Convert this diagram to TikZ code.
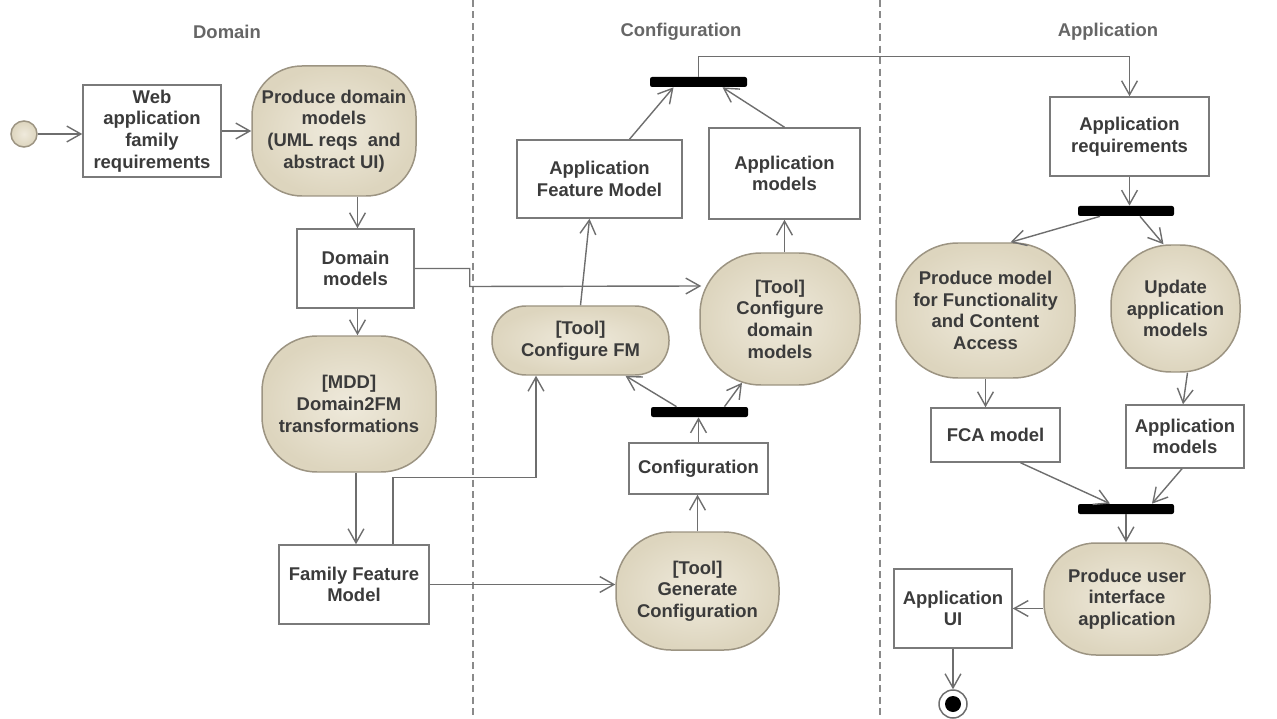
\documentclass[tikz,border=0pt]{standalone}
\usepackage{fontspec}
\setmainfont{Liberation Sans}
\usetikzlibrary{arrows.meta,calc}
\definecolor{actin}{HTML}{EFEADC}
\definecolor{actout}{HTML}{DDD5BE}
\definecolor{actline}{HTML}{9C9482}
\definecolor{ink}{HTML}{3B3B3B}
\definecolor{wire}{HTML}{6E6E6E}
\definecolor{boxline}{HTML}{7A7A7A}
\definecolor{lanegray}{HTML}{8A8A8A}
\definecolor{headgray}{HTML}{666666}

\tikzset{
  px/.style 2 args={minimum width=#1*0.02cm, minimum height=#2*0.02cm},
  lbl/.style={font=\fontsize{10.5}{12.3}\selectfont\bfseries, text=ink, align=center, inner sep=0pt},
  objbox/.style={lbl, draw=boxline, fill=white, line width=0.85pt},
  action/.style={lbl, draw=actline, inner color=actin, outer color=actout, line width=0.85pt, rounded corners=#1},
  forkbar/.style={fill=black, draw=none, inner sep=0pt, rounded corners=1.2pt},
  conn/.style={draw=wire, line width=0.8pt, -{Straight Barb[length=8pt,width=9pt]}},
  lane/.style={draw=lanegray, line width=1.1pt, dash pattern=on 4pt off 2.5pt},
  header/.style={font=\fontsize{10.5}{12}\selectfont\bfseries, text=headgray}
}

\begin{document}
\begin{tikzpicture}[x=0.02cm, y=-0.02cm]
\useasboundingbox (0,0) rectangle (1277,719);

% swimlane separators
\draw[lane] (473,0) -- (473,719);
\draw[lane] (880,0) -- (880,719);

% lane headers
\node[header] (hdom) at (227,32) {Domain};
\node[header] (hconf) at (681,32) {Configuration};
\node[header] (happ) at (1108,32) {Application};

% Domain lane
\node[circle, draw=actline, inner color=actin, outer color=actout, line width=0.85pt, minimum size=26*0.02cm, inner sep=0pt] (start) at (24,134) {};
\node[objbox, px={138}{92}] (web) at (152,131) {Web\\application\\family\\requirements};
\node[action=1.0cm, px={164}{130}] (pdm) at (334,131) {Produce domain\\models\\(UML reqs~ and\\abstract UI)};
\node[objbox, px={117}{79}] (dm) at (355.5,268.5) {Domain\\models};
\node[action=1.1cm, px={174}{136}] (mdd) at (349,404) {[MDD]\\Domain2FM\\transformations};
\node[objbox, px={150}{79}] (ffm) at (354,584.5) {Family Feature\\Model};

% Configuration lane
\node[objbox, px={165}{78}] (afm) at (599.5,179) {Application\\Feature Model};
\node[objbox, px={151}{91}] (am1) at (784.5,173.5) {Application\\models};
\node[forkbar, px={97}{10}] (bar1) at (698.5,82) {};
\node[action=0.68cm, px={177}{69}] (cfm) at (580.5,340.5) {[Tool]\\Configure FM};
\node[action=1.22cm, px={160}{132}] (cdm) at (780,319) {[Tool]\\Configure\\domain\\models};
\node[forkbar, px={97}{10}] (bar2) at (699.5,412) {};
\node[objbox, px={139}{51}] (conf) at (698.5,468.5) {Configuration};
\node[action=1.1cm, px={163}{118}] (gc) at (697.5,591) {[Tool]\\Generate\\Configuration};

% Application lane
\node[objbox, px={159}{79}] (areq) at (1129.5,136.5) {Application\\requirements};
\node[forkbar, px={96}{10}] (bar3) at (1126,211) {};
\node[action=1.24cm, px={179}{135}] (pfca) at (985.5,310.5) {Produce model\\for Functionality\\and Content\\Access};
\node[action=1.2cm, px={129}{127}] (upd) at (1175.5,308.5) {Update\\application\\models};
\node[objbox, px={129}{54}] (fcam) at (995.5,435) {FCA model};
\node[objbox, px={118}{63}] (am2) at (1185,436.5) {Application\\models};
\node[forkbar, px={96}{10}] (bar4) at (1126,509) {};
\node[action=1.04cm, px={166}{112}] (pui) at (1127,599) {Produce user\\interface\\application};
\node[objbox, px={118}{79}] (aui) at (953,608.5) {Application\\UI};
\node[circle, draw=wire, fill=white, line width=0.85pt, minimum size=28*0.02cm, inner sep=0pt] (final) at (953,704) {};
\node[circle, fill=black, minimum size=16*0.02cm, inner sep=0pt] (finaldot) at (final) {};

% Domain flows
\draw[conn] (start) -- (web.west |- start);
\draw[conn] (web.east) -- (pdm.west |- web.east);
\draw[conn] ($(dm.north |- pdm.south)+(2,0)$) -- ($(dm.north)+(2,0)$);
\draw[conn] ($(dm.south)+(2,0)$) -- ($(dm.south |- mdd.north)+(2,0)$);
\draw[conn] ($(ffm.north |- mdd.south)+(2,0)$) -- ($(ffm.north)+(2,0)$);
\draw[conn] (dm.east) -| ($(dm.east)+(55,18)$) -- ($(cdm.west)+(2,-33)$);
\draw[conn] ($(ffm.north)+(39,0)$) |- ($(cfm.south)+(-44.5,102)$) -- ($(cfm.south)+(-44.5,0)$);
\draw[conn] (ffm.east) -- (gc.west |- ffm.east);

% Configuration flows
\draw[conn] (gc.north) -- (conf.south -| gc.north);
\draw[conn] (conf.north) -- (bar2.south -| conf.north);
\draw[conn] ($(bar2.north)+(-23,0)$) -- ($(cfm.south)+(45,0)$);
\draw[conn] ($(bar2.north)+(25,0)$) -- ($(cdm.south)+(-38,-3)$);
\draw[conn] (cfm.north) -- ($(afm.south)+(-10,0)$);
\draw[conn] (am1.south |- cdm.north) -- (am1.south);
\draw[conn] ($(afm.north)+(30,0)$) -- ($(bar1.south)+(-25,0)$);
\draw[conn] (am1.north) -- ($(bar1.south)+(24,0)$);
\draw[conn] (bar1.north) -- ++(0,-20) -| (areq.north);

% Application flows
\draw[conn] (areq.south) -- (bar3.north -| areq.south);
\draw[conn] ($(bar3.south)+(-26,0)$) -- ($(pfca.north)+(25,0)$);
\draw[conn] ($(bar3.south)+(14,0)$) -- ($(upd.north)+(-12,0)$);
\draw[conn] (pfca.south) -- (fcam.north -| pfca.south);
\draw[conn] ($(upd.south)+(12,0)$) -- ($(am2.north)+(-2,0)$);
\draw[conn] ($(fcam.south)+(25,0)$) -- ($(bar4.north)+(-16,0)$);
\draw[conn] ($(am2.south)+(-3,0)$) -- ($(bar4.north)+(26,0)$);
\draw[conn] (bar4.south) -- (pui.north -| bar4.south);
\draw[conn] (aui.east -| pui.west) -- (aui.east);
\draw[conn] (aui.south) -- (final.north);
\end{tikzpicture}
\end{document}
